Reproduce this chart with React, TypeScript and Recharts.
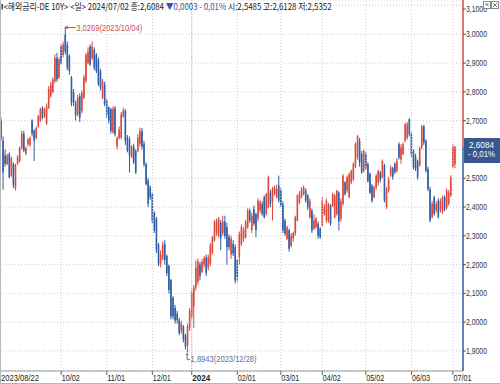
import { ComposedChart, Bar, XAxis, YAxis, CartesianGrid, ReferenceLine, ReferenceDot } from 'recharts'

// trading calendar (Eurex holidays skipped)
const holidays = ['2023-12-25', '2023-12-26', '2024-01-01', '2024-03-29', '2024-04-01', '2024-05-01']

function tradingDays(from: string, to: string) {
  const out: string[] = []
  const d = new Date(from + 'T00:00:00Z')
  const end = new Date(to + 'T00:00:00Z')
  while (d <= end) {
    const s = d.toISOString().slice(0, 10)
    const wd = d.getUTCDay()
    if (wd !== 0 && wd !== 6 && !holidays.includes(s)) out.push(s)
    d.setUTCDate(d.getUTCDate() + 1)
  }
  return out
}

const dates = tradingDays('2023-08-22', '2024-07-02')

const opens = [
  2.70, 2.63, 2.58, 2.55, 2.584, 2.51, 2.55, 2.465, 2.55, 2.56,
  2.605, 2.655, 2.585, 2.62, 2.615, 2.70, 2.665, 2.64, 2.68, 2.70,
  2.745, 2.715, 2.69, 2.745, 2.785, 2.80, 2.838, 2.918, 2.85, 2.958,
  2.929, 2.998, 2.964, 2.924, 2.85, 2.80, 2.76, 2.722, 2.785, 2.733,
  2.78, 2.838, 2.90, 2.958, 2.918, 2.946, 2.929, 2.912, 2.872, 2.78,
  2.826, 2.768, 2.745, 2.74, 2.66, 2.745, 2.61, 2.64, 2.641, 2.715,
  2.735, 2.641, 2.635, 2.575, 2.61, 2.595, 2.595, 2.62, 2.664, 2.62,
  2.549, 2.492, 2.468, 2.445, 2.38, 2.36, 2.27, 2.205, 2.22, 2.272,
  2.23, 2.195, 2.146, 2.085, 2.05, 2.03, 2.007, 1.97, 1.985, 1.955,
  1.92, 1.98, 2.02, 2.055, 2.12, 2.14, 2.20, 2.175, 2.20, 2.225,
  2.19, 2.203, 2.243, 2.284, 2.31, 2.30, 2.345, 2.31, 2.35, 2.33,
  2.296, 2.235, 2.272, 2.261, 2.215, 2.226, 2.272, 2.29, 2.296, 2.33,
  2.388, 2.32, 2.394, 2.376, 2.36, 2.388, 2.411, 2.434, 2.376, 2.40,
  2.45, 2.42, 2.445, 2.434, 2.474, 2.457, 2.41, 2.353, 2.29, 2.32,
  2.265, 2.29, 2.307, 2.353, 2.417, 2.434, 2.445, 2.457, 2.44, 2.365,
  2.388, 2.325, 2.33, 2.342, 2.325, 2.336, 2.376, 2.353, 2.35, 2.405,
  2.405, 2.365, 2.376, 2.45, 2.36, 2.411, 2.485, 2.457, 2.434, 2.485,
  2.497, 2.54, 2.573, 2.63, 2.584, 2.526, 2.584, 2.549, 2.515, 2.474,
  2.434, 2.468, 2.485, 2.52, 2.503, 2.544, 2.40, 2.457, 2.51, 2.535,
  2.55, 2.526, 2.618, 2.565, 2.584, 2.63, 2.64, 2.705, 2.653, 2.595,
  2.578, 2.56, 2.545, 2.607, 2.68, 2.63, 2.532, 2.462, 2.365, 2.434,
  2.388, 2.422, 2.388, 2.385, 2.434, 2.399, 2.411, 2.44, 2.54, 2.5485,
]

const highs = [
  2.71, 2.645, 2.60, 2.585, 2.59, 2.575, 2.555, 2.55, 2.58, 2.61,
  2.665, 2.665, 2.61, 2.64, 2.645, 2.705, 2.67, 2.68, 2.72, 2.745,
  2.75, 2.745, 2.76, 2.82, 2.835, 2.85, 2.93, 2.935, 2.92, 2.965,
  2.975, 3.0269, 2.975, 2.93, 2.855, 2.81, 2.77, 2.79, 2.795, 2.805,
  2.86, 2.935, 2.955, 2.965, 2.975, 2.955, 2.935, 2.92, 2.88, 2.845,
  2.835, 2.775, 2.75, 2.745, 2.75, 2.75, 2.645, 2.68, 2.73, 2.745,
  2.74, 2.65, 2.645, 2.615, 2.62, 2.60, 2.653, 2.675, 2.675, 2.63,
  2.555, 2.50, 2.475, 2.45, 2.385, 2.365, 2.275, 2.25, 2.28, 2.285,
  2.235, 2.20, 2.15, 2.09, 2.06, 2.04, 2.015, 2.005, 1.99, 1.96,
  1.995, 2.05, 2.11, 2.13, 2.215, 2.222, 2.21, 2.22, 2.23, 2.235,
  2.235, 2.275, 2.30, 2.355, 2.36, 2.365, 2.355, 2.37, 2.37, 2.345,
  2.305, 2.30, 2.285, 2.27, 2.22, 2.315, 2.34, 2.33, 2.355, 2.395,
  2.395, 2.38, 2.405, 2.38, 2.43, 2.425, 2.42, 2.44, 2.45, 2.509,
  2.46, 2.47, 2.475, 2.478, 2.509, 2.465, 2.42, 2.36, 2.335, 2.325,
  2.31, 2.315, 2.37, 2.445, 2.455, 2.47, 2.475, 2.465, 2.445, 2.43,
  2.395, 2.375, 2.365, 2.35, 2.33, 2.434, 2.41, 2.43, 2.415, 2.41,
  2.45, 2.445, 2.46, 2.455, 2.43, 2.515, 2.49, 2.51, 2.52, 2.53,
  2.555, 2.625, 2.65, 2.64, 2.595, 2.60, 2.59, 2.555, 2.52, 2.48,
  2.475, 2.515, 2.53, 2.525, 2.565, 2.55, 2.47, 2.505, 2.545, 2.54,
  2.555, 2.57, 2.625, 2.618, 2.625, 2.693, 2.695, 2.708, 2.66, 2.60,
  2.585, 2.565, 2.61, 2.685, 2.685, 2.635, 2.54, 2.47, 2.42, 2.44,
  2.42, 2.43, 2.43, 2.44, 2.44, 2.465, 2.46, 2.51, 2.618, 2.6128,
]

const lows = [
  2.63, 2.46, 2.54, 2.545, 2.50, 2.505, 2.465, 2.457, 2.545, 2.555,
  2.60, 2.59, 2.58, 2.61, 2.61, 2.645, 2.56, 2.635, 2.675, 2.695,
  2.705, 2.71, 2.685, 2.74, 2.78, 2.795, 2.83, 2.835, 2.845, 2.895,
  2.92, 2.93, 2.875, 2.86, 2.75, 2.75, 2.70, 2.715, 2.695, 2.725,
  2.775, 2.83, 2.895, 2.89, 2.91, 2.875, 2.865, 2.82, 2.805, 2.775,
  2.75, 2.71, 2.69, 2.655, 2.655, 2.645, 2.60, 2.635, 2.635, 2.71,
  2.615, 2.59, 2.52, 2.57, 2.55, 2.515, 2.59, 2.61, 2.60, 2.54,
  2.475, 2.40, 2.425, 2.345, 2.31, 2.24, 2.195, 2.19, 2.215, 2.20,
  2.16, 2.10, 2.01, 2.01, 1.995, 1.995, 1.955, 1.96, 1.93, 1.905,
  1.8943, 1.97, 2.01, 1.98, 2.11, 2.13, 2.145, 2.17, 2.19, 2.16,
  2.18, 2.195, 2.235, 2.28, 2.30, 2.295, 2.25, 2.30, 2.29, 2.20,
  2.25, 2.22, 2.23, 2.134, 2.14, 2.20, 2.265, 2.28, 2.29, 2.325,
  2.345, 2.31, 2.335, 2.295, 2.35, 2.38, 2.37, 2.36, 2.37, 2.395,
  2.40, 2.353, 2.44, 2.43, 2.415, 2.40, 2.31, 2.30, 2.285, 2.245,
  2.26, 2.28, 2.30, 2.35, 2.41, 2.43, 2.44, 2.415, 2.39, 2.36,
  2.31, 2.32, 2.325, 2.29, 2.29, 2.33, 2.37, 2.345, 2.345, 2.335,
  2.40, 2.36, 2.37, 2.319, 2.35, 2.405, 2.44, 2.45, 2.43, 2.48,
  2.49, 2.535, 2.565, 2.54, 2.515, 2.52, 2.53, 2.485, 2.445, 2.415,
  2.43, 2.46, 2.475, 2.485, 2.50, 2.416, 2.393, 2.45, 2.505, 2.495,
  2.515, 2.52, 2.565, 2.55, 2.58, 2.625, 2.635, 2.645, 2.575, 2.53,
  2.525, 2.495, 2.54, 2.60, 2.615, 2.52, 2.455, 2.347, 2.36, 2.37,
  2.38, 2.36, 2.38, 2.376, 2.385, 2.39, 2.405, 2.435, 2.535, 2.5352,
]

const closes = [
  2.64, 2.52, 2.55, 2.578, 2.503, 2.57, 2.475, 2.545, 2.572, 2.605,
  2.655, 2.595, 2.605, 2.635, 2.64, 2.655, 2.63, 2.675, 2.715, 2.74,
  2.71, 2.74, 2.75, 2.81, 2.825, 2.843, 2.918, 2.843, 2.912, 2.90,
  2.964, 2.94, 2.884, 2.872, 2.762, 2.762, 2.72, 2.78, 2.71, 2.797,
  2.85, 2.929, 2.94, 2.895, 2.958, 2.884, 2.872, 2.826, 2.814, 2.837,
  2.757, 2.722, 2.70, 2.664, 2.74, 2.652, 2.64, 2.67, 2.722, 2.735,
  2.63, 2.595, 2.58, 2.607, 2.555, 2.52, 2.641, 2.664, 2.61, 2.549,
  2.48, 2.41, 2.434, 2.353, 2.319, 2.25, 2.203, 2.235, 2.268, 2.215,
  2.17, 2.112, 2.02, 2.02, 2.005, 2.008, 1.962, 1.995, 1.94, 1.915,
  1.985, 2.04, 2.10, 2.12, 2.19, 2.21, 2.16, 2.21, 2.222, 2.17,
  2.225, 2.266, 2.296, 2.347, 2.353, 2.36, 2.29, 2.35, 2.30, 2.26,
  2.261, 2.29, 2.238, 2.145, 2.157, 2.307, 2.33, 2.319, 2.347, 2.388,
  2.353, 2.37, 2.342, 2.32, 2.422, 2.417, 2.376, 2.365, 2.445, 2.503,
  2.411, 2.465, 2.468, 2.462, 2.422, 2.405, 2.319, 2.307, 2.33, 2.255,
  2.30, 2.31, 2.365, 2.44, 2.445, 2.462, 2.468, 2.422, 2.399, 2.422,
  2.319, 2.355, 2.36, 2.30, 2.296, 2.42, 2.399, 2.422, 2.41, 2.342,
  2.445, 2.44, 2.457, 2.35, 2.42, 2.508, 2.445, 2.503, 2.515, 2.526,
  2.549, 2.618, 2.647, 2.555, 2.52, 2.595, 2.538, 2.49, 2.45, 2.422,
  2.468, 2.508, 2.526, 2.495, 2.56, 2.422, 2.462, 2.497, 2.537, 2.505,
  2.52, 2.56, 2.572, 2.607, 2.618, 2.687, 2.687, 2.653, 2.584, 2.538,
  2.532, 2.503, 2.605, 2.68, 2.624, 2.526, 2.462, 2.353, 2.411, 2.376,
  2.411, 2.365, 2.422, 2.434, 2.394, 2.457, 2.45, 2.503, 2.6087, 2.6084,
]

const tickDates = [
  '2023-08-22', '2023-10-02', '2023-11-01', '2023-12-01', '2024-01-02', '2024-02-01',
  '2024-03-01', '2024-04-02', '2024-05-02', '2024-06-03', '2024-07-01',
]
const tickLabels = ['2023/08/22', '10/02', '11/01', '12/01', '2024', '02/01', '03/01', '04/02', '05/02', '06/03', '07/01']
const priceTicks = [1.9, 2.0, 2.1, 2.2, 2.3, 2.4, 2.5, 2.6, 2.7, 2.8, 2.9, 3.0, 3.1]

const Y_MIN = 1.8305
const Y_MAX = 3.1191
const W = 500
const H = 384
const AXIS_H = 13
const RED = '#dc4a3e'
const BLUE = '#315ea6'
const GRID = '#cdcdcd'
const NARROW = "'Liberation Sans', Arial, sans-serif"
const KR = "'Noto Sans CJK KR', 'Noto Sans', sans-serif"

const data = dates.map((date, i) => ({
  date,
  open: opens[i],
  high: highs[i],
  low: lows[i],
  close: closes[i],
  range: [lows[i], highs[i]],
}))

const fmt = (v: number) => v.toFixed(4).replace('.', ',')
const slashDate = (d: string) => d.replace(/-/g, '/')

const last = closes.length - 1
const change = closes[last] - closes[last - 1]
const changePct = (change / closes[last - 1]) * 100
const pctText = `${changePct < 0 ? '- ' : ''}${Math.abs(changePct).toFixed(2).replace('.', ',')}%`

const maxIdx = highs.indexOf(Math.max(...highs))
const minIdx = lows.indexOf(Math.min(...lows))

function Candle(props: any) {
  const { x, y, width, height, payload } = props
  if (!payload || x == null) return null
  const top = Math.min(y, y + height)
  const h = Math.abs(height)
  const span = payload.high - payload.low
  const k = span > 0 ? h / span : 0
  const py = (v: number) => top + (payload.high - v) * k
  const up = payload.close >= payload.open
  const color = up ? RED : BLUE
  const cx = x + width / 2
  const bTop = py(Math.max(payload.open, payload.close))
  const bBot = py(Math.min(payload.open, payload.close))
  return (
    <g>
      <line x1={cx} x2={cx} y1={top} y2={top + h} stroke={color} strokeWidth={1} />
      <rect x={cx - 0.8} y={bTop} width={1.6} height={Math.max(bBot - bTop, 0.8)} fill={color} />
    </g>
  )
}

function XTick(props: any) {
  const { x, y, payload } = props
  const i = tickDates.indexOf(payload.value)
  if (i < 0) return null
  const label = tickLabels[i]
  const bold = label === '2024'
  return (
    <g>
      {i > 0 && <line x1={x} x2={x} y1={y} y2={y + 4} stroke="#666" />}
      <text
        x={i === 0 ? x : x + 0.5}
        y={y + 9.5}
        fontSize={9}
        fontFamily={NARROW}
        fontWeight={bold ? 700 : 400}
        fill="#222"
        textLength={i === 0 ? 38 : 18}
        lengthAdjust="spacingAndGlyphs"
      >
        {label}
      </text>
    </g>
  )
}

// the price tag on the axis hides the tick label it sits on
function YTick(props: any) {
  const { x, y, payload } = props
  const hidden = Math.abs(payload.value - closes[last]) < 0.03
  return (
    <g>
      <line x1={x} x2={x + 3} y1={y} y2={y} stroke="#555" />
      {!hidden && (
        <text
          x={x + 3}
          y={y + 3}
          fontSize={8.5}
          fontFamily={NARROW}
          fill="#333"
          textLength={21}
          lengthAdjust="spacingAndGlyphs"
        >
          {fmt(payload.value)}
        </text>
      )}
    </g>
  )
}

function PriceTag(props: any) {
  const vb = props.viewBox
  if (!vb) return null
  const x = vb.x + vb.width + 1
  const y = vb.y
  return (
    <g>
      <rect x={x} y={y - 9} width={36} height={25} fill="#36578f" />
      <text x={x + 5} y={y + 1} fontSize={8.5} fontFamily={NARROW} fill="#fff" textLength={25} lengthAdjust="spacingAndGlyphs">
        {fmt(closes[last])}
      </text>
      <text x={x + 4} y={y + 10} fontSize={8.5} fontFamily={NARROW} fill="#fff" textLength={27} lengthAdjust="spacingAndGlyphs">
        {pctText}
      </text>
    </g>
  )
}

function MaxMark(props: any) {
  const { cx, cy } = props
  const ay = cy + 1
  return (
    <g>
      <line x1={cx - 0.5} x2={cx + 10.5} y1={ay} y2={ay} stroke="#c9504a" />
      <path d={`M${cx - 0.5},${ay} l3,-2 v4 z`} fill="#c9504a" />
      <text
        x={cx + 11}
        y={ay + 3.5}
        fontSize={9}
        fontFamily={NARROW}
        fill="#c9504a"
        textLength={66}
        lengthAdjust="spacingAndGlyphs"
      >
        {`${fmt(highs[maxIdx])}(${slashDate(dates[maxIdx])})`}
      </text>
    </g>
  )
}

function MinMark(props: any) {
  const { cx, cy } = props
  return (
    <g>
      <path d={`M${cx - 0.5},${cy + 1} v6 h3`} fill="none" stroke="#5d6f9c" />
      <path d={`M${cx - 0.5},${cy} l-1.5,2.5 h3 z`} fill="#5d6f9c" />
      <text
        x={cx + 3}
        y={cy + 9}
        fontSize={9}
        fontFamily={NARROW}
        fill="#5d6f9c"
        textLength={66}
        lengthAdjust="spacingAndGlyphs"
      >
        {`${fmt(lows[minIdx])}(${slashDate(dates[minIdx])})`}
      </text>
    </g>
  )
}

const INK = '#222'
const DOWN_INK = '#3655a5'

export default function App() {
  const plotH = H - AXIS_H
  const split = (Y_MAX - closes[last]) / (Y_MAX - Y_MIN)
  return (
    <div style={{ position: 'absolute', left: 0, top: 0, width: W, height: H, background: '#fff' }}>
      <ComposedChart width={W} height={H} data={data} margin={{ top: 0, right: 0, bottom: 0, left: 0 }} barCategoryGap={0}>
        <defs>
          <linearGradient id="axisGrad" gradientUnits="userSpaceOnUse" x1={0} y1={0} x2={0} y2={plotH}>
            <stop offset={split} stopColor={RED} />
            <stop offset={split} stopColor={BLUE} />
          </linearGradient>
        </defs>
        <CartesianGrid vertical={false} stroke={GRID} strokeDasharray="1 2" />
        <XAxis
          dataKey="date"
          type="category"
          ticks={tickDates}
          interval={0}
          padding={{ left: 0, right: 7 }}
          height={AXIS_H}
          tickSize={0}
          tickMargin={0}
          tickLine={false}
          axisLine={{ stroke: '#9a9a9a' }}
          tick={<XTick />}
        />
        <YAxis
          orientation="right"
          type="number"
          domain={[Y_MIN, Y_MAX]}
          allowDataOverflow
          ticks={priceTicks}
          width={37}
          tickSize={0}
          tickMargin={0}
          tickLine={false}
          axisLine={{ stroke: 'url(#axisGrad)', strokeWidth: 1.5 }}
          tick={<YTick />}
        />
        {tickDates.slice(1).map((d) => (
          <ReferenceLine
            key={d}
            x={d}
            stroke={d === '2024-01-02' ? '#a8a8a8' : GRID}
            strokeDasharray={d === '2024-01-02' ? '1 1' : '1 2'}
          />
        ))}
        <Bar dataKey="range" shape={<Candle />} isAnimationActive={false} />
        <ReferenceDot x={dates[maxIdx]} y={highs[maxIdx]} r={0} shape={<MaxMark />} />
        <ReferenceDot x={dates[minIdx]} y={lows[minIdx]} r={0} shape={<MinMark />} />
        <ReferenceLine y={closes[last]} stroke="none" label={<PriceTag />} />
      </ComposedChart>
      <svg width={W} height={H} style={{ position: 'absolute', left: 0, top: 0, pointerEvents: 'none' }}>
        <line x1={0.5} x2={0.5} y1={0} y2={H} stroke="#b5b5b5" />
        <line x1={0} x2={W} y1={H - 0.5} y2={H - 0.5} stroke="#b5b5b5" />
        <rect x={1.5} y={4} width={1.4} height={5.5} fill="#333" />
        <text
          x={3.5}
          y={10}
          fontSize={9}
          fontFamily={KR}
          fill={INK}
          textLength={328}
          lengthAdjust="spacingAndGlyphs"
        >
          <tspan>{`<해외금리-DE 10Y> <일> ${slashDate(dates[last])} 종:${fmt(closes[last])} `}</tspan>
          <tspan fill={DOWN_INK}>{`${change < 0 ? '▼' : '▲'}${fmt(Math.abs(change))}  ${pctText}`}</tspan>
          <tspan>{` 시:${fmt(opens[last])} 고:${fmt(highs[last])} 저:${fmt(lows[last])}`}</tspan>
        </text>
        <rect x={483.5} y={1.5} width={7} height={7} fill="#fff" stroke="#8a8a8a" />
        <rect x={485.5} y={3.5} width={3} height={2} fill="#8a8a8a" />
        <rect x={491.5} y={1.5} width={7} height={7} fill="#fff" stroke="#8a8a8a" />
        <path d="M493,3 l4,4 M497,3 l-4,4" stroke="#777" />
      </svg>
    </div>
  )
}
